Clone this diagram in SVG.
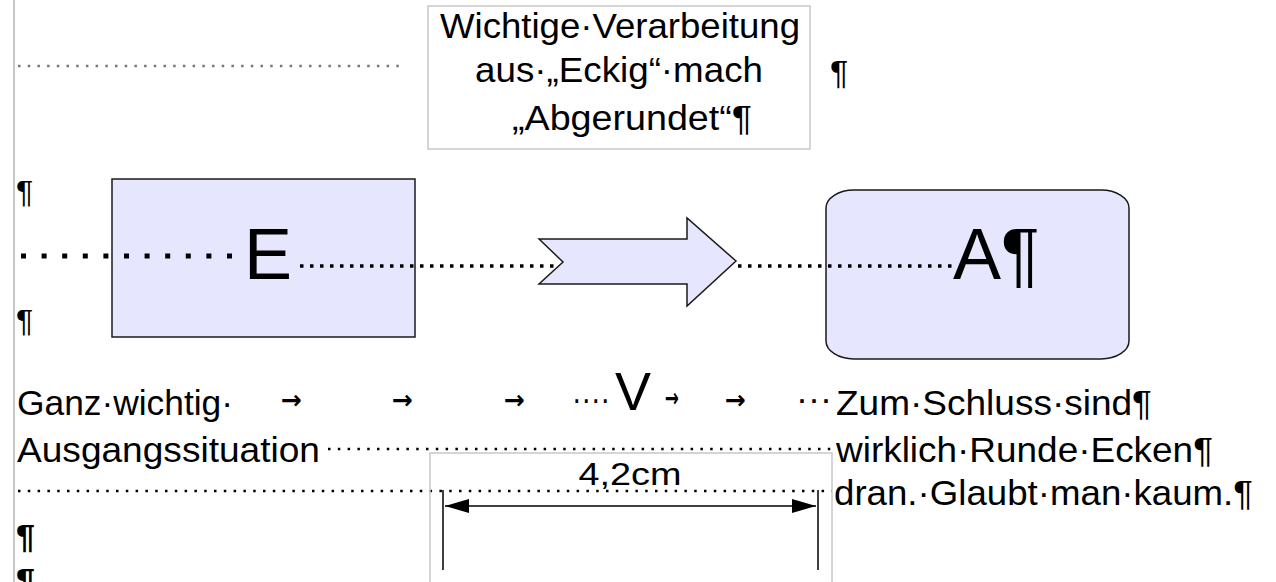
<svg xmlns="http://www.w3.org/2000/svg" width="1276" height="582" viewBox="0 0 1276 582">
<defs>
<style>
.t{font-family:"Liberation Sans",Arial,sans-serif;fill:#000}
.f35{font-size:35px}
.arr{font-family:"DejaVu Sans",sans-serif;font-size:26px;font-weight:bold;fill:#000}
.shape{fill:#e6e6ff;stroke:#1a1a1a;stroke-width:1.5}
.gbox{fill:none;stroke:#c8c8c8;stroke-width:1.5}
.dotbig{stroke:#000;stroke-width:5;stroke-dasharray:5 15.6;fill:none}
.dotmid{stroke:#000;stroke-width:3.5;stroke-dasharray:3.5 6.5;fill:none}
.dotsm{stroke:#000;stroke-width:2.5;stroke-dasharray:2.5 7.3;fill:none}
.dotgray{stroke:#777;stroke-width:2.5;stroke-dasharray:2.5 7.2;fill:none}
</style>
<marker id="ah" viewBox="0 0 24 14" refX="24" refY="7" markerWidth="24" markerHeight="14" markerUnits="userSpaceOnUse" orient="auto-start-reverse">
<path d="M0,0 L24,7 L0,14 Z" fill="#000"/>
</marker>
</defs>
<rect width="1276" height="582" fill="#fff"/>
<line x1="14" y1="0" x2="14" y2="582" stroke="#c8c8c8" stroke-width="2"/>

<g id="title-box">
<rect class="gbox" x="428" y="6" width="382" height="143"/>
<text class="t f35" x="440" y="38" textLength="360" lengthAdjust="spacingAndGlyphs">Wichtige·Verarbeitung</text>
<text class="t f35" x="475" y="82" textLength="288" lengthAdjust="spacingAndGlyphs">aus·„Eckig“·mach</text>
<text class="t f35" x="512" y="130" textLength="240" lengthAdjust="spacingAndGlyphs">„Abgerundet“¶</text>
</g>
<text class="t" x="830" y="84" font-size="34">¶</text>

<g id="para-marks">
<text class="t" x="16" y="203" font-size="32">¶</text>
<text class="t" x="16" y="332" font-size="32">¶</text>
<text class="t" x="16" y="548" font-size="34" font-weight="bold">¶</text>
<text class="t" x="16" y="592" font-size="34" font-weight="bold">¶</text>
</g>

<g id="node-E">
<rect class="shape" x="112" y="179" width="303" height="158"/>
</g>

<g id="node-A">
<rect class="shape" x="826" y="190" width="303" height="169" rx="28" ry="18"/>
</g>

<g id="node-arrow">
<path class="shape" d="M539,239 L563,262 L539,284 L687,284 L687,306 L736,261 L687,218 L687,239 Z"/>
</g>

<g id="connectors">
<line class="dotgray" x1="18" y1="66" x2="406" y2="66"/>
<line class="dotbig" x1="21" y1="256" x2="238" y2="256"/>
<line class="dotmid" x1="300" y1="266" x2="560" y2="266"/>
<line class="dotmid" x1="738" y1="266" x2="952" y2="266"/>
<line class="dotsm" x1="328" y1="449" x2="834" y2="449"/>
<line class="dotsm" x1="18" y1="491" x2="832" y2="491"/>
</g>

<g id="labels-big">
<text class="t" x="244" y="279" font-size="72">E</text>
<text class="t" x="953" y="279" font-size="72">A¶</text>
<text class="t" x="615" y="410" font-size="54">V</text>
</g>

<g id="text-line1">
<text class="t f35" x="17" y="415" textLength="216" lengthAdjust="spacingAndGlyphs">Ganz·wichtig·</text>
<text class="arr" x="281" y="409" textLength="21" lengthAdjust="spacingAndGlyphs">→</text>
<text class="arr" x="392" y="409" textLength="21" lengthAdjust="spacingAndGlyphs">→</text>
<text class="arr" x="504" y="409" textLength="21" lengthAdjust="spacingAndGlyphs">→</text>
<text class="t f35" x="572" y="411" textLength="38" lengthAdjust="spacingAndGlyphs">····</text>
<text class="arr" x="665" y="407" font-size="19" font-weight="normal" textLength="14" lengthAdjust="spacingAndGlyphs">→</text>
<text class="arr" x="725" y="409" textLength="21" lengthAdjust="spacingAndGlyphs">→</text>
<text class="t f35" x="796" y="411" textLength="36" lengthAdjust="spacingAndGlyphs">···</text>
<text class="t f35" x="836" y="415" textLength="316" lengthAdjust="spacingAndGlyphs">Zum·Schluss·sind¶</text>
</g>

<g id="text-line2">
<text class="t f35" x="17" y="462" textLength="303" lengthAdjust="spacingAndGlyphs">Ausgangssituation</text>
<text class="t f35" x="836" y="462" textLength="377" lengthAdjust="spacingAndGlyphs">wirklich·Runde·Ecken¶</text>
</g>

<g id="text-line3">
<text class="t f35" x="834" y="505" textLength="419" lengthAdjust="spacingAndGlyphs">dran.·Glaubt·man·kaum.¶</text>
</g>

<g id="dimension">
<rect class="gbox" x="430" y="453" width="402" height="140"/>
<text class="t" x="630" y="485" font-size="32" text-anchor="middle" textLength="103" lengthAdjust="spacingAndGlyphs">4,2cm</text>
<line x1="443" y1="490" x2="443" y2="570" stroke="#000" stroke-width="1.5"/>
<line x1="818" y1="490" x2="818" y2="570" stroke="#000" stroke-width="1.5"/>
<line x1="445" y1="506" x2="816" y2="506" stroke="#000" stroke-width="1.5" marker-start="url(#ah)" marker-end="url(#ah)"/>
</g>
</svg>
